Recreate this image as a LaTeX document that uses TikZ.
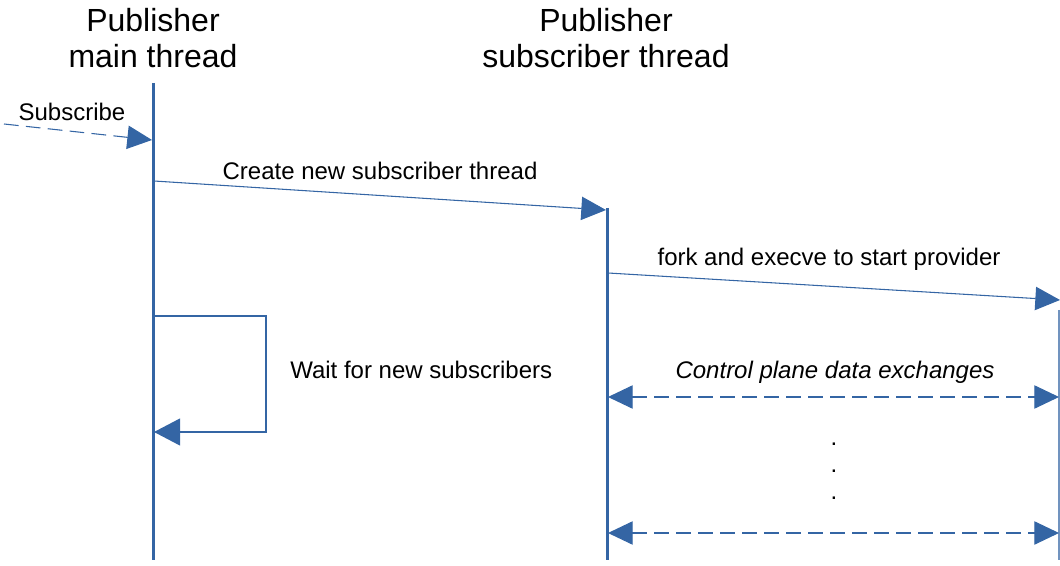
\documentclass[tikz,border=0pt]{standalone}
\usepackage{fontspec}
\setmainfont{Liberation Sans}
\usetikzlibrary{arrows.meta}
\definecolor{lineblue}{HTML}{3465A4}
\begin{document}
\begin{tikzpicture}[x=0.75pt,y=-0.75pt,
  lifeline/.style={draw=lineblue,line width=2.25pt},
  thinline/.style={draw=lineblue,line width=0.8pt},
  tip/.style={-{Triangle[length=18.5pt,width=17.5pt]}},
  msg/.style={thinline,tip,lineblue},
  dashmsg/.style={msg,dash pattern=on 11pt off 5.5pt},
  bidash/.style={thinline,{Triangle[length=18.5pt,width=17.5pt]}-{Triangle[length=18.5pt,width=17.5pt]},lineblue,dash pattern=on 11pt off 5.5pt},
  loopline/.style={draw=lineblue,line width=1.6pt,-{Triangle[length=19.5pt,width=20pt]},lineblue},
  title/.style={font=\fontsize{24}{27}\selectfont,align=center,inner sep=0pt},
  label/.style={font=\fontsize{18}{20.25}\selectfont,inner sep=0pt}
]
\useasboundingbox (0,0) rectangle (1060,566);

% lifeline headings
\node[title] (hmain) at (153,38.5) {Publisher\\main thread};
\node[title] (hsub) at (606,38.5) {Publisher\\subscriber thread};

% lifelines
\coordinate (mainTop) at (153,83);
\coordinate (mainBot) at (153,560);
\coordinate (subTop) at (607,208);
\coordinate (subBot) at (607,560);
\coordinate (provTop) at (1059,310);
\coordinate (provBot) at (1059,560);
\draw[lifeline] (mainTop) -- (mainBot);
\draw[lifeline] (subTop) -- (subBot);
\draw[thinline,line width=1.2pt,draw=lineblue!70] (provTop) -- (provBot);

% incoming subscribe request
\coordinate (subsFrom) at (4,124);
\coordinate (subsTo) at (152,140);
\draw[dashmsg] (subsFrom) -- (subsTo);
\node[label,anchor=base] (subsLbl) at (72,121) {Subscribe};

% main thread creates the subscriber thread
\coordinate (createFrom) at (154,181);
\coordinate (createTo) at (606,210);
\draw[msg] (createFrom) -- (createTo);
\node[label,anchor=base] (createLbl) at (380,180) {Create new subscriber thread};

% subscriber thread starts the provider
\coordinate (forkFrom) at (608,273);
\coordinate (forkTo) at (1060,300);
\draw[msg] (forkFrom) -- (forkTo);
\node[label,anchor=base] (forkLbl) at (829,266) {fork and execve to start provider};

% waiting loop on the main thread
\coordinate (loopA) at (154,316);
\coordinate (loopB) at (266,316);
\coordinate (loopC) at (266,432);
\coordinate (loopD) at (154,432);
\draw[loopline] (loopA) -- (loopB) -- (loopC) -- (loopD);
\node[label,anchor=base west] (waitLbl) at (290,379) {Wait for new subscribers};

% control plane exchanges
\node[label,anchor=base,font=\fontsize{18}{20.25}\selectfont\itshape] (ctrlLbl) at (835,379) {Control plane data exchanges};
\coordinate (ex1L) at (608,397);
\coordinate (ex1R) at (1059,397);
\coordinate (ex2L) at (608,533);
\coordinate (ex2R) at (1059,533);
\draw[bidash] (ex1L) -- (ex1R);
\draw[bidash] (ex2L) -- (ex2R);
\node[label,align=center] (dots) at (834,471) {.\\.\\.};
\end{tikzpicture}
\end{document}
